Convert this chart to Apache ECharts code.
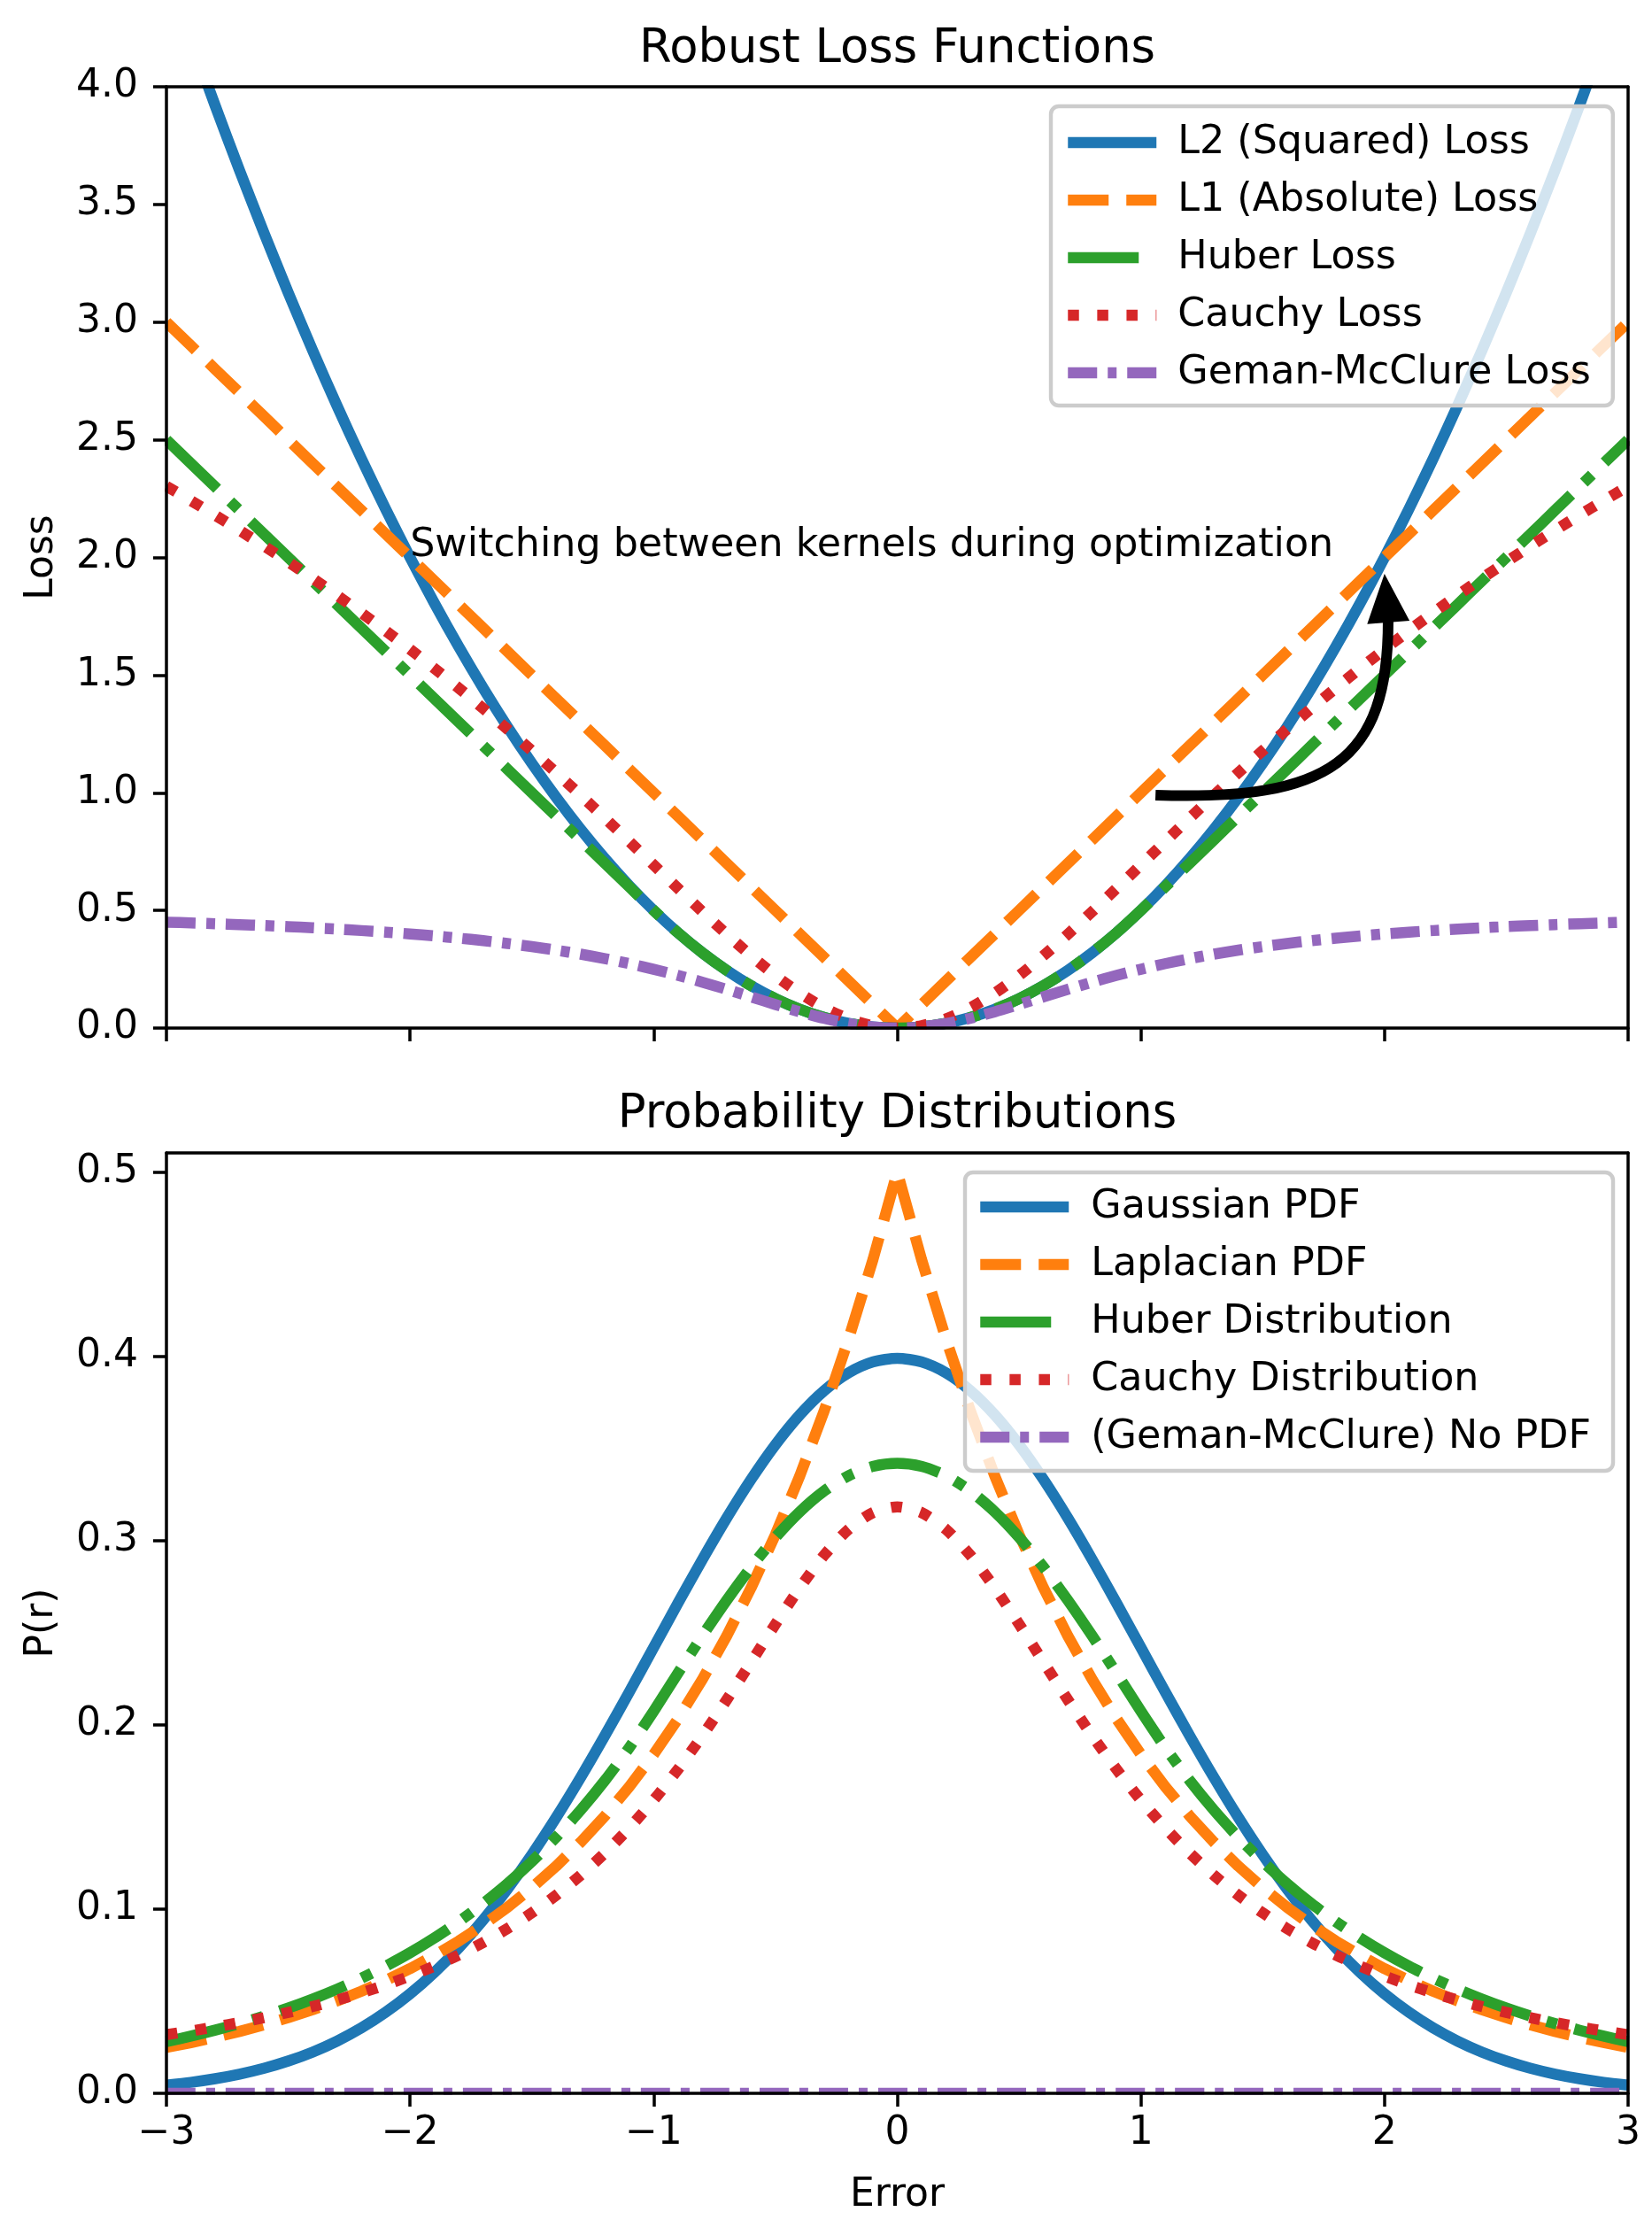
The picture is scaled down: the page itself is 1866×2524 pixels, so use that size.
<!DOCTYPE html>
<html>
<head>
<meta charset="utf-8">
<script src="https://cdn.jsdelivr.net/npm/echarts@6/dist/echarts.min.js"></script>
<style>
html,body{margin:0;padding:0;background:#ffffff;}
#chart{width:1866px;height:2524px;}
</style>
</head>
<body>
<div id="chart"></div>
<script>
// ---------- data ----------
const errorX = [-3.0,-2.9,-2.8,-2.7,-2.6,-2.5,-2.4,-2.3,-2.2,-2.1,-2.0,-1.9,-1.8,-1.7,-1.6,-1.5,-1.4,-1.3,-1.2,-1.1,-1.0,-0.9,-0.8,-0.7,-0.6,-0.5,-0.4,-0.3,-0.2,-0.1,0.0,0.1,0.2,0.3,0.4,0.5,0.6,0.7,0.8,0.9,1.0,1.1,1.2,1.3,1.4,1.5,1.6,1.7,1.8,1.9,2.0,2.1,2.2,2.3,2.4,2.5,2.6,2.7,2.8,2.9,3.0];

const l2Loss = [4.5,4.205,3.92,3.645,3.38,3.125,2.88,2.645,2.42,2.205,2.0,1.805,1.62,1.445,1.28,1.125,0.98,0.845,0.72,0.605,0.5,0.405,0.32,0.245,0.18,0.125,0.08,0.045,0.02,0.005,0,0.005,0.02,0.045,0.08,0.125,0.18,0.245,0.32,0.405,0.5,0.605,0.72,0.845,0.98,1.125,1.28,1.445,1.62,1.805,2.0,2.205,2.42,2.645,2.88,3.125,3.38,3.645,3.92,4.205,4.5];
const l1Loss = [3.0,2.9,2.8,2.7,2.6,2.5,2.4,2.3,2.2,2.1,2.0,1.9,1.8,1.7,1.6,1.5,1.4,1.3,1.2,1.1,1.0,0.9,0.8,0.7,0.6,0.5,0.4,0.3,0.2,0.1,0,0.1,0.2,0.3,0.4,0.5,0.6,0.7,0.8,0.9,1.0,1.1,1.2,1.3,1.4,1.5,1.6,1.7,1.8,1.9,2.0,2.1,2.2,2.3,2.4,2.5,2.6,2.7,2.8,2.9,3.0];
const huberLoss = [2.5,2.4,2.3,2.2,2.1,2.0,1.9,1.8,1.7,1.6,1.5,1.4,1.3,1.2,1.1,1.0,0.9,0.8,0.7,0.6,0.5,0.405,0.32,0.245,0.18,0.125,0.08,0.045,0.02,0.005,0,0.005,0.02,0.045,0.08,0.125,0.18,0.245,0.32,0.405,0.5,0.6,0.7,0.8,0.9,1.0,1.1,1.2,1.3,1.4,1.5,1.6,1.7,1.8,1.9,2.0,2.1,2.2,2.3,2.4,2.5];
const cauchyLoss = [2.30259,2.24177,2.17929,2.11505,2.04898,1.98100,1.91102,1.83896,1.76473,1.68825,1.60944,1.52823,1.44456,1.35841,1.26976,1.17865,1.08519,0.98954,0.89200,0.79299,0.69315,0.59333,0.49470,0.39878,0.30748,0.22314,0.14842,0.08618,0.03922,0.00995,0,0.00995,0.03922,0.08618,0.14842,0.22314,0.30748,0.39878,0.49470,0.59333,0.69315,0.79299,0.89200,0.98954,1.08519,1.17865,1.26976,1.35841,1.44456,1.52823,1.60944,1.68825,1.76473,1.83896,1.91102,1.98100,2.04898,2.11505,2.17929,2.24177,2.30259];
const gemanLoss = [0.45,0.44687,0.44344,0.43969,0.43557,0.43103,0.42604,0.42051,0.41438,0.40758,0.4,0.39154,0.38208,0.37147,0.35955,0.34615,0.33108,0.31413,0.29508,0.27376,0.25,0.22376,0.19512,0.16443,0.13235,0.1,0.06897,0.04128,0.01923,0.00495,0,0.00495,0.01923,0.04128,0.06897,0.1,0.13235,0.16443,0.19512,0.22376,0.25,0.27376,0.29508,0.31413,0.33108,0.34615,0.35955,0.37147,0.38208,0.39154,0.4,0.40758,0.41438,0.42051,0.42604,0.43103,0.43557,0.43969,0.44344,0.44687,0.45];

const gaussianPdf = [0.00443,0.00595,0.00792,0.01042,0.01358,0.01753,0.02239,0.02833,0.03547,0.04398,0.05399,0.06562,0.07895,0.09405,0.11092,0.12952,0.14973,0.17137,0.19419,0.21785,0.24197,0.26609,0.28969,0.31225,0.33322,0.35207,0.36827,0.38139,0.39104,0.39695,0.39894,0.39695,0.39104,0.38139,0.36827,0.35207,0.33322,0.31225,0.28969,0.26609,0.24197,0.21785,0.19419,0.17137,0.14973,0.12952,0.11092,0.09405,0.07895,0.06562,0.05399,0.04398,0.03547,0.02833,0.02239,0.01753,0.01358,0.01042,0.00792,0.00595,0.00443];
const laplacianPdf = [0.02489,0.02751,0.03041,0.03360,0.03714,0.04104,0.04536,0.05013,0.05540,0.06123,0.06767,0.07478,0.08265,0.09134,0.10095,0.11157,0.12330,0.13627,0.15060,0.16644,0.18394,0.20329,0.22466,0.24829,0.27441,0.30327,0.33516,0.37041,0.40937,0.45242,0.5,0.45242,0.40937,0.37041,0.33516,0.30327,0.27441,0.24829,0.22466,0.20329,0.18394,0.16644,0.15060,0.13627,0.12330,0.11157,0.10095,0.09134,0.08265,0.07478,0.06767,0.06123,0.05540,0.05013,0.04536,0.04104,0.03714,0.03360,0.03041,0.02751,0.02489];
const huberPdf = [0.02807,0.03102,0.03428,0.03789,0.04188,0.04628,0.05115,0.05653,0.06247,0.06904,0.07630,0.08433,0.09320,0.10300,0.11383,0.12580,0.13903,0.15365,0.16981,0.18767,0.20741,0.22808,0.24831,0.26765,0.28563,0.30178,0.31567,0.32692,0.33519,0.34025,0.34196,0.34025,0.33519,0.32692,0.31567,0.30178,0.28563,0.26765,0.24831,0.22808,0.20741,0.18767,0.16981,0.15365,0.13903,0.12580,0.11383,0.10300,0.09320,0.08433,0.07630,0.06904,0.06247,0.05653,0.05115,0.04628,0.04188,0.03789,0.03428,0.03102,0.02807];
const cauchyPdf = [0.03183,0.03383,0.03601,0.03840,0.04102,0.04391,0.04709,0.05061,0.05451,0.05884,0.06366,0.06905,0.07507,0.08183,0.08941,0.09794,0.10754,0.11833,0.13046,0.14403,0.15915,0.17586,0.19409,0.21363,0.23405,0.25465,0.27441,0.29203,0.30607,0.31516,0.31831,0.31516,0.30607,0.29203,0.27441,0.25465,0.23405,0.21363,0.19409,0.17586,0.15915,0.14403,0.13046,0.11833,0.10754,0.09794,0.08941,0.08183,0.07507,0.06905,0.06366,0.05884,0.05451,0.05061,0.04709,0.04391,0.04102,0.03840,0.03601,0.03383,0.03183];
const gemanPdfX = [-3.0, 3.0];
const gemanPdf = [0, 0];

const lossNames = ['L2 (Squared) Loss','L1 (Absolute) Loss','Huber Loss','Cauchy Loss','Geman-McClure Loss'];
const pdfNames = ['Gaussian PDF','Laplacian PDF','Huber Distribution','Cauchy Distribution','(Geman-McClure) No PDF'];
const xTicks = [-3,-2,-1,0,1,2,3];
const lossTicks = [0,0.5,1.0,1.5,2.0,2.5,3.0,3.5,4.0];
const pdfTicks = [0,0.1,0.2,0.3,0.4,0.5];
const titles = ['Robust Loss Functions','Probability Distributions'];
const annotationText = 'Switching between kernels during optimization';
const annotationAt = [-2, 2];
const arrowFrom = [1.06, 0.99];
const arrowTo = [2.0, 1.93];

// ---------- styles ----------
const FONT = 'DejaVu Sans';
const LW = 12.5;
const colors = ['#1f77b4','#ff7f0e','#2ca02c','#d62728','#9467bd'];
const dashes = ['solid',[46,20],[80,20,12.5,20],[12.5,20.6],[33,12,10,12]];
const G0 = {left:188, top:98, width:1651, height:1063};
const G1 = {left:188, top:1302, width:1651, height:1062};

function pairs(xs, ys){ return xs.map((x,i)=>[x, ys[i]]); }
function fmtX(v){ return (v<0 ? '\u2212' : '') + Math.abs(v); }

const axisLineStyle = {show:true, onZero:false, lineStyle:{color:'#000', width:3.5}};
const tickStyle = {show:true, inside:false, length:15, lineStyle:{color:'#000', width:3.5}};
const labelBase = {color:'#000', fontSize:44, fontFamily:FONT, lineHeight:44};

function xAxisMain(grid, showLabels){
  return {type:'value', gridIndex:grid, min:-3, max:3, interval:1, position:'bottom', z:10,
    axisLine:axisLineStyle, axisTick:tickStyle, splitLine:{show:false},
    axisLabel:Object.assign({show:showLabels, margin:24, formatter:fmtX}, labelBase),
    name: showLabels ? 'Error' : '', nameLocation:'middle', nameGap:94,
    nameTextStyle:{color:'#000', fontSize:44, fontFamily:FONT, lineHeight:44}};
}
function xAxisTop(grid){
  return {type:'value', gridIndex:grid, min:-3, max:3, position:'top', z:10,
    axisLine:axisLineStyle, axisTick:{show:false}, axisLabel:{show:false}, splitLine:{show:false}};
}
function yAxisRight(grid, max){
  return {type:'value', gridIndex:grid, min:0, max:max, position:'right', z:10,
    axisLine:axisLineStyle, axisTick:{show:false}, axisLabel:{show:false}, splitLine:{show:false}};
}

const legendBase = {
  orient:'vertical', itemWidth:100, itemHeight:44, itemGap:21,
  backgroundColor:'rgba(255,255,255,0.8)', borderColor:'#cccccc', borderWidth:4.4, borderRadius:9,
  itemStyle:{opacity:0}, selectedMode:false, z:4
};
function legendText(padLeft){
  return {color:'#000', fontSize:44.4, fontFamily:FONT, lineHeight:44, padding:[0,0,0,padLeft]};
}
function legendData(names){
  return names.map((n,i)=>({name:n, lineStyle:{color:colors[i], width:LW, type:dashes[i], cap:'butt'}}));
}

function lineSeries(name, idx, axisIdx, data){
  return {type:'line', name:name, xAxisIndex:axisIdx, yAxisIndex:axisIdx, data:data,
    symbol:'none', showSymbol:false, smooth:(idx===1 ? false : 0.25), clip:true, silent:true, animation:false,
    lineStyle:{color:colors[idx], width:LW, type:dashes[idx], cap:'butt', join:'round'},
    itemStyle:{color:colors[idx]}, z:2};
}

const option = {
  animation:false,
  backgroundColor:'#ffffff',
  textStyle:{fontFamily:FONT},
  title:[
    {text:titles[0], left:G0.left+G0.width/2, top:30, textAlign:'center', padding:0,
     textStyle:{color:'#000', fontSize:52.8, fontWeight:'normal', fontFamily:FONT, lineHeight:53}},
    {text:titles[1], left:G1.left+G1.width/2, top:1233, textAlign:'center', padding:0,
     textStyle:{color:'#000', fontSize:52.8, fontWeight:'normal', fontFamily:FONT, lineHeight:53}}
  ],
  grid:[
    Object.assign({containLabel:false, show:false}, G0),
    Object.assign({containLabel:false, show:false}, G1)
  ],
  xAxis:[ xAxisMain(0,false), xAxisTop(0), xAxisMain(1,true), xAxisTop(1) ],
  yAxis:[
    {type:'value', gridIndex:0, min:0, max:4, interval:0.5, position:'left', z:10,
     axisLine:axisLineStyle, axisTick:tickStyle, splitLine:{show:false},
     axisLabel:Object.assign({margin:32, formatter:v=>v.toFixed(1)}, labelBase),
     name:'Loss', nameLocation:'middle', nameGap:118, nameRotate:90,
     nameTextStyle:{color:'#000', fontSize:44, fontFamily:FONT, lineHeight:44}},
    yAxisRight(0,4),
    {type:'value', gridIndex:1, min:0, max:0.5104, position:'left', z:10,
     axisLine:axisLineStyle, axisTick:Object.assign({customValues:pdfTicks}, tickStyle), splitLine:{show:false},
     axisLabel:Object.assign({margin:32, customValues:pdfTicks, formatter:v=>v.toFixed(1)}, labelBase),
     name:'P(r)', nameLocation:'middle', nameGap:118, nameRotate:90,
     nameTextStyle:{color:'#000', fontSize:44, fontFamily:FONT, lineHeight:44}},
    yAxisRight(1,0.5104)
  ],
  legend:[
    Object.assign({}, legendBase, {left:1187, top:120, padding:[19,25,15,13], textStyle:legendText(19), data:legendData(lossNames)}),
    Object.assign({}, legendBase, {left:1090, top:1324, padding:[17,25,16,11], textStyle:legendText(20), data:legendData(pdfNames)})
  ],
  series:[
    lineSeries(lossNames[0],0,0,pairs(errorX,l2Loss)),
    lineSeries(lossNames[1],1,0,pairs(errorX,l1Loss)),
    lineSeries(lossNames[2],2,0,pairs(errorX,huberLoss)),
    lineSeries(lossNames[3],3,0,pairs(errorX,cauchyLoss)),
    lineSeries(lossNames[4],4,0,pairs(errorX,gemanLoss)),
    lineSeries(pdfNames[0],0,2,pairs(errorX,gaussianPdf)),
    Object.assign(lineSeries(pdfNames[1],1,2,pairs(errorX,laplacianPdf)),{smooth:false}),
    lineSeries(pdfNames[2],2,2,pairs(errorX,huberPdf)),
    lineSeries(pdfNames[3],3,2,pairs(errorX,cauchyPdf)),
    lineSeries(pdfNames[4],4,2,pairs(gemanPdfX,gemanPdf))
  ]
};

const chart = echarts.init(document.getElementById('chart'), null, {renderer:'canvas', width:1866, height:2524});
chart.setOption(option);

// ---------- overlay: clip masks, annotation text, curved arrow ----------
function px(pt){ return chart.convertToPixel({gridIndex:0}, pt); }
const els = [];
[G0, G1].forEach(g=>{
  const t = 9, s = 1.75;
  els.push({type:'rect', z:3, silent:true, shape:{x:g.left-t-s, y:g.top-t-s, width:g.width+2*(t+s), height:t}, style:{fill:'#fff'}});
  els.push({type:'rect', z:3, silent:true, shape:{x:g.left-t-s, y:g.top+g.height+s, width:g.width+2*(t+s), height:t}, style:{fill:'#fff'}});
  els.push({type:'rect', z:3, silent:true, shape:{x:g.left-t-s, y:g.top-t-s, width:t, height:g.height+2*(t+s)}, style:{fill:'#fff'}});
  els.push({type:'rect', z:3, silent:true, shape:{x:g.left+g.width+s, y:g.top-t-s, width:t, height:g.height+2*(t+s)}, style:{fill:'#fff'}});
});

const tp = px(annotationAt);
els.push({type:'text', z:5, silent:true, x:tp[0], y:tp[1]-13,
  style:{text:annotationText, fill:'#000', fontSize:44.4, fontFamily:FONT, align:'left', verticalAlign:'middle'}});

// curved arrow: leaves the start point heading right, turns upward into the tip
const p0 = px(arrowFrom), tip = px(arrowTo);
let hx = -0.08, hy = -1; const hl = Math.hypot(hx,hy); hx/=hl; hy/=hl;   // head direction (up, slightly left)
const headLen = 55, headHalf = 24;
const base = [tip[0]-hx*headLen, tip[1]-hy*headLen];
const c1 = [p0[0] + 0.744*(base[0]-p0[0]), p0[1] + 7];
const c2 = [base[0], base[1] + 0.806*(p0[1]-base[1])];
const shaftEnd = [base[0]+hx*3, base[1]+hy*3];
els.push({type:'bezierCurve', z:5, silent:true,
  shape:{x1:p0[0], y1:p0[1], x2:shaftEnd[0], y2:shaftEnd[1], cpx1:c1[0], cpy1:c1[1], cpx2:c2[0], cpy2:c2[1]},
  style:{stroke:'#000', lineWidth:12, fill:null, lineCap:'butt'}});
els.push({type:'polygon', z:5, silent:true,
  shape:{points:[[tip[0],tip[1]],[base[0]-hy*headHalf, base[1]+hx*headHalf],[base[0]+hy*headHalf, base[1]-hx*headHalf]]},
  style:{fill:'#000'}});

chart.setOption({graphic:{elements:els}});
</script>
</body>
</html>
